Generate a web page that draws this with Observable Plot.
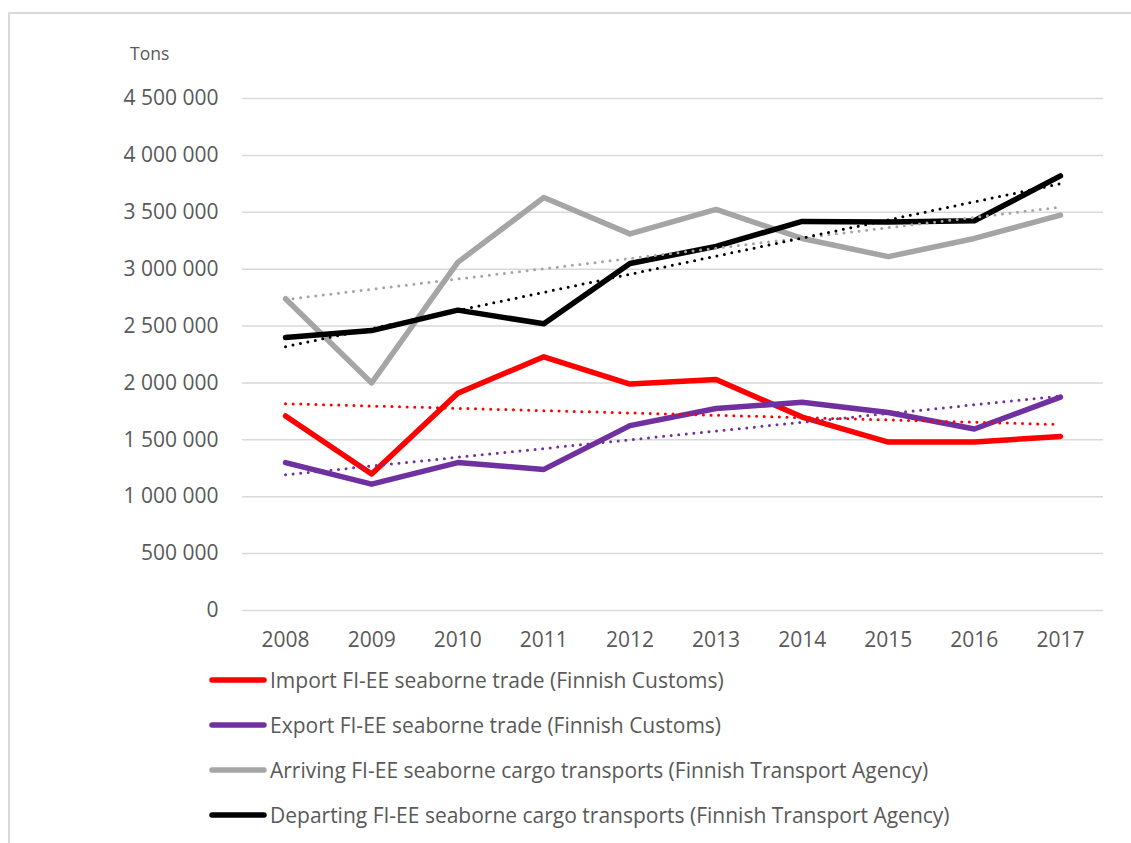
<!DOCTYPE html>
<html>
<head>
<meta charset="utf-8">
<script src="https://cdn.jsdelivr.net/npm/d3@7"></script>
<script src="https://cdn.jsdelivr.net/npm/@observablehq/plot@0.6"></script>
<style>
  html, body { margin: 0; padding: 0; background: #fff; }
  body { width: 1131px; height: 843px; overflow: hidden; position: relative; font-family: "Open Sans", "DejaVu Sans", sans-serif; }
  #frame { position: absolute; left: 8px; top: 12px; width: 1200px; height: 900px; border-top: 2px solid #D9D9D9; border-left: 2px solid #D9D9D9; }
  #chart { position: absolute; left: 0; top: 0; }
  #unit { position: absolute; left: 130px; top: 41px; font-size: 17.5px; color: #595959; }
  #legend { position: absolute; left: 208px; top: 657px; }
  .item { display: flex; align-items: center; height: 45px; }
  .item svg { display: block; }
  .item span { font-size: 21px; color: #595959; margin-left: 2px; white-space: nowrap; }
</style>
</head>
<body>
<div id="frame"></div>
<div id="chart"></div>
<div id="unit">Tons</div>
<div id="legend"></div>
<script>
const years = [2008, 2009, 2010, 2011, 2012, 2013, 2014, 2015, 2016, 2017];
const importTons    = [1710000, 1200000, 1910000, 2230000, 1990000, 2030000, 1700000, 1480000, 1480000, 1530000];
const exportTons    = [1300000, 1110000, 1300000, 1240000, 1625000, 1775000, 1830000, 1740000, 1595000, 1875000];
const arrivingTons  = [2740000, 2000000, 3060000, 3630000, 3310000, 3525000, 3270000, 3110000, 3270000, 3475000];
const departingTons = [2400000, 2460000, 2640000, 2520000, 3050000, 3200000, 3420000, 3415000, 3425000, 3820000];
const seriesNames = [
  "Import FI-EE seaborne trade (Finnish Customs)",
  "Export FI-EE seaborne trade (Finnish Customs)",
  "Arriving FI-EE seaborne cargo transports (Finnish Transport Agency)",
  "Departing FI-EE seaborne cargo transports (Finnish Transport Agency)"
];
const seriesColors = ["#FF0000", "#7030A0", "#A5A5A5", "#000000"];
const seriesValues = [importTons, exportTons, arrivingTons, departingTons];
const yTicks = [0, 500000, 1000000, 1500000, 2000000, 2500000, 3000000, 3500000, 4000000, 4500000];

const rows = [];
seriesNames.forEach((name, i) => {
  years.forEach((yr, j) => rows.push({series: name, year: yr, value: seriesValues[i][j]}));
});

const fmt = d => d3.format(",")(d).replace(/,/g, " ");
const colorScale = {domain: seriesNames, range: seriesColors};

const chart = Plot.plot({
  width: 1131,
  height: 660,
  marginTop: 98,
  marginBottom: 50,
  marginLeft: 242,
  marginRight: 28,
  style: {fontFamily: "'Open Sans', sans-serif", color: "#595959", background: "transparent"},
  x: {domain: [2007.5, 2017.5]},
  y: {domain: [0, 4500000]},
  color: colorScale,
  marks: [
    Plot.gridY(yTicks, {stroke: "#D9D9D9", strokeOpacity: 1, strokeWidth: 1.5}),
    Plot.axisY(yTicks, {tickSize: 0, tickPadding: 24, tickFormat: fmt, fontSize: 21, fill: "#595959", label: null}),
    Plot.axisX(years, {tickSize: 0, tickPadding: 22, tickFormat: d => String(d), fontSize: 21, fill: "#595959", label: null}),
    Plot.line(rows, {x: "year", y: "value", z: "series", stroke: "series", strokeWidth: 5.5, strokeLinejoin: "round", strokeLinecap: "round"}),
    Plot.linearRegressionY(rows, {x: "year", y: "value", z: "series", stroke: "series", ci: 0, strokeWidth: 3, strokeLinecap: "round", strokeDasharray: "0 7.6"})
  ]
});
document.getElementById("chart").appendChild(chart);

const legend = document.getElementById("legend");
seriesNames.forEach((name, i) => {
  const item = document.createElement("div");
  item.className = "item";
  item.innerHTML = `<svg width="60" height="10"><line x1="4" y1="5" x2="56" y2="5" stroke="${seriesColors[i]}" stroke-width="5.5" stroke-linecap="round"/></svg><span>${name}</span>`;
  legend.appendChild(item);
});
</script>
</body>
</html>
